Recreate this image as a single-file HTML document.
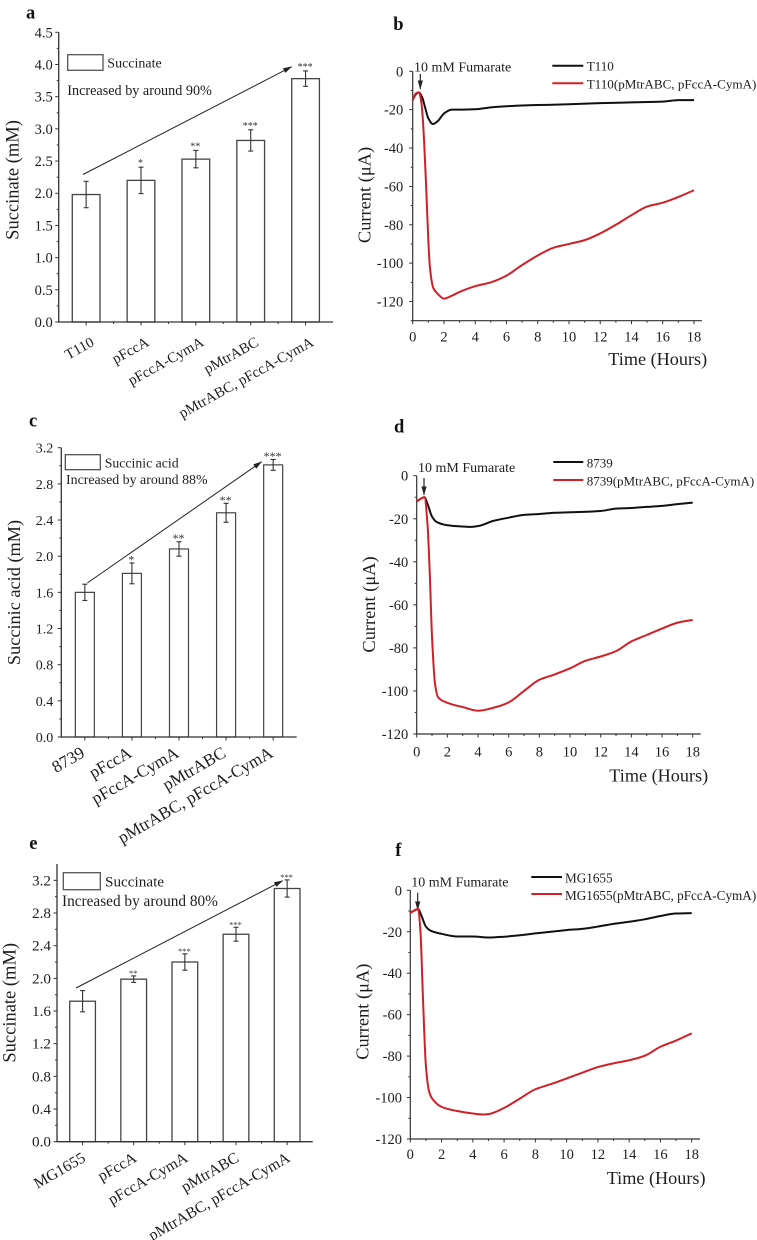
<!DOCTYPE html>
<html lang="en">
<head>
<meta charset="utf-8">
<title>Succinate production and current curves</title>
<style>
html,body{margin:0;padding:0;background:#fff;}
svg{display:block;}
text{font-family:"Liberation Serif",serif;fill:#1e1e1e;}
.panel-letter{font-weight:bold;font-size:18.5px;fill:#111;}
</style>
</head>
<body>
<svg id="figure" xmlns="http://www.w3.org/2000/svg" width="757" height="1240" viewBox="0 0 757 1240">
<defs>
<marker id="arrowhead" markerUnits="userSpaceOnUse" markerWidth="9" markerHeight="6" refX="8.5" refY="3" orient="auto"><path d="M0,0.4 L9,3 L0,5.6 Z" fill="#222"/></marker>
</defs>
<rect width="757" height="1240" fill="#fff"/>

<!-- Panel a -->
<g id="panel-a">
<text class="panel-letter" x="26" y="18.5">a</text>
<text transform="translate(18.3 180) rotate(-90)" text-anchor="middle" font-size="18.5">Succinate (mM)</text>
<rect x="67.7" y="54.7" width="35.3" height="15.6" fill="#fff" stroke="#555" stroke-width="1.3"/>
<text x="107.3" y="67.7" font-size="14">Succinate</text>
<text x="67.3" y="95" font-size="14.2">Increased by around 90%</text>
<line x1="83" y1="174.5" x2="291.7" y2="66.7" stroke="#222" stroke-width="1" marker-end="url(#arrowhead)"/>
</g>

<!-- Panel b -->
<g id="panel-b">
<text class="panel-letter" x="393.3" y="30">b</text>
<text transform="translate(370.7 195) rotate(-90)" text-anchor="middle" font-size="18.4">Current (μA)</text>
<text x="608.3" y="365" font-size="18.2">Time (Hours)</text>
<text x="414" y="71.7" font-size="14">10 mM Fumarate</text>
<line x1="420.3" y1="74" x2="420.3" y2="89" stroke="#111" stroke-width="1.1" marker-end="url(#arrowhead)"/>
<line x1="552.3" y1="65.7" x2="583.3" y2="65.7" stroke="#111" stroke-width="2"/>
<text x="586.7" y="70.7" font-size="13.1">T110</text>
<line x1="552.3" y1="83.3" x2="583.3" y2="83.3" stroke="#d11f27" stroke-width="2"/>
<text x="586.7" y="88.7" font-size="13.1">T110(pMtrABC, pFccA-CymA)</text>
</g>

<!-- Panel c -->
<g id="panel-c">
<text class="panel-letter" x="29" y="426.7">c</text>
<text transform="translate(20 592.5) rotate(-90)" text-anchor="middle" font-size="18.3">Succinic acid (mM)</text>
<rect x="65.3" y="454.7" width="35" height="15" fill="#fff" stroke="#444" stroke-width="1.2"/>
<text x="104.7" y="467.3" font-size="13.8">Succinic acid</text>
<text x="66" y="484" font-size="13.9">Increased by around 88%</text>
<line x1="87.3" y1="583" x2="261.7" y2="461.7" stroke="#222" stroke-width="1" marker-end="url(#arrowhead)"/>
</g>

<!-- Panel d -->
<g id="panel-d">
<text class="panel-letter" x="394" y="432.3">d</text>
<text transform="translate(375 604.5) rotate(-90)" text-anchor="middle" font-size="18.4">Current (μA)</text>
<text x="609.3" y="781.7" font-size="18.2">Time (Hours)</text>
<text x="418" y="472" font-size="14">10 mM Fumarate</text>
<line x1="424" y1="478" x2="424" y2="495" stroke="#111" stroke-width="1.1" marker-end="url(#arrowhead)"/>
<line x1="553.3" y1="462" x2="583.3" y2="462" stroke="#111" stroke-width="2"/>
<text x="586.7" y="467.3" font-size="13">8739</text>
<line x1="553.3" y1="480" x2="583.3" y2="480" stroke="#d11f27" stroke-width="2"/>
<text x="586.7" y="485.7" font-size="13">8739(pMtrABC, pFccA-CymA)</text>
</g>

<!-- Panel e -->
<g id="panel-e">
<text class="panel-letter" x="29.3" y="849">e</text>
<text transform="translate(15.7 1002.8) rotate(-90)" text-anchor="middle" font-size="18.5">Succinate (mM)</text>
<rect x="63.3" y="872.7" width="37" height="17" fill="#fff" stroke="#555" stroke-width="1.3"/>
<text x="105" y="886.7" font-size="15.2">Succinate</text>
<text x="62" y="906" font-size="15.3">Increased by around 80%</text>
<line x1="76" y1="988" x2="282.7" y2="880.7" stroke="#222" stroke-width="1" marker-end="url(#arrowhead)"/>
</g>

<!-- Panel f -->
<g id="panel-f">
<text class="panel-letter" x="395.3" y="856">f</text>
<text transform="translate(368.3 1011.7) rotate(-90)" text-anchor="middle" font-size="18.4">Current (μA)</text>
<text x="606.7" y="1184" font-size="18.2">Time (Hours)</text>
<text x="411.3" y="886.7" font-size="14">10 mM Fumarate</text>
<line x1="417.7" y1="892.7" x2="417.7" y2="910" stroke="#111" stroke-width="1.1" marker-end="url(#arrowhead)"/>
<line x1="531.3" y1="877" x2="562" y2="877" stroke="#111" stroke-width="2"/>
<text x="565" y="882.3" font-size="13.2">MG1655</text>
<line x1="531.3" y1="894" x2="562" y2="894" stroke="#d11f27" stroke-width="2"/>
<text x="565" y="900" font-size="13.2">MG1655(pMtrABC, pFccA-CymA)</text>
</g>
</svg>

<script>
/* ---- Bar chart data ---- */
var aCategories = ['T110', 'pFccA', 'pFccA-CymA', 'pMtrABC', 'pMtrABC, pFccA-CymA'];
var aValues = [1.98, 2.2, 2.53, 2.82, 3.78];
var aErrors = [0.205, 0.205, 0.135, 0.165, 0.12];
var aStars = ['', '*', '**', '***', '***'];
var aTicks = ['0.0', '0.5', '1.0', '1.5', '2.0', '2.5', '3.0', '3.5', '4.0', '4.5'];

var cCategories = ['8739', 'pFccA', 'pFccA-CymA', 'pMtrABC', 'pMtrABC, pFccA-CymA'];
var cValues = [1.6, 1.81, 2.08, 2.48, 3.01];
var cErrors = [0.09, 0.115, 0.08, 0.105, 0.06];
var cStars = ['', '*', '**', '**', '***'];
var cTicks = ['0.0', '0.4', '0.8', '1.2', '1.6', '2.0', '2.4', '2.8', '3.2'];

var eCategories = ['MG1655', 'pFccA', 'pFccA-CymA', 'pMtrABC', 'pMtrABC, pFccA-CymA'];
var eValues = [1.72, 1.99, 2.2, 2.54, 3.1];
var eErrors = [0.13, 0.04, 0.1, 0.085, 0.105];
var eStars = ['', '**', '***', '***', '***'];
var eTicks = ['0.0', '0.4', '0.8', '1.2', '1.6', '2.0', '2.4', '2.8', '3.2'];

/* ---- Line chart data ---- */
var timeTicks = ['0', '2', '4', '6', '8', '10', '12', '14', '16', '18'];
var bCurrentTicks = ['0', '-20', '-40', '-60', '-80', '-100', '-120'];
var dCurrentTicks = ['0', '-20', '-40', '-60', '-80', '-100', '-120'];
var fCurrentTicks = ['0', '-20', '-40', '-60', '-80', '-100', '-120'];

var bControlTime = [0, 0.2, 0.4, 0.6, 0.8, 1, 1.3, 1.6, 2, 2.5, 3, 4, 5, 6, 7, 8, 10, 12, 14, 16, 17, 18];
var bControlCurrent = [-15, -12, -11, -13.5, -19, -24.5, -27.5, -26, -22, -20, -20, -19.8, -18.8, -18.2, -17.8, -17.6, -17.2, -16.6, -16.2, -15.8, -15, -15];
var bEngineeredTime = [0, 0.2, 0.4, 0.55, 0.64, 0.85, 1, 1.1, 1.32, 1.6, 2, 2.5, 3, 4, 5, 6, 7, 8, 9, 10, 11, 12, 13, 14, 15, 16, 17, 18];
var bEngineeredCurrent = [-15, -11.5, -11, -16, -24, -58, -88, -102, -113, -116, -118.5, -117, -115, -112, -110, -106.5, -101, -96, -92, -90, -88, -84.5, -80, -75, -70.5, -68.5, -65.5, -62];

var dControlTime = [0, 0.2, 0.5, 0.7, 1, 1.3, 2, 3, 3.5, 4, 5, 6, 7, 8, 9, 10, 12, 13, 14, 15, 16, 17, 18];
var dControlCurrent = [-12, -11, -10, -13, -19, -21.5, -23, -23.6, -23.8, -23.4, -21, -19.5, -18.2, -17.8, -17.2, -17, -16.4, -15.3, -15, -14.5, -14, -13.2, -12.5];
var dEngineeredTime = [0, 0.2, 0.5, 0.7, 0.85, 1, 1.2, 1.4, 2, 3, 4, 5, 6, 7, 8, 9, 10, 11, 12, 13, 14, 15, 16, 17, 18];
var dEngineeredCurrent = [-12, -11, -10, -22, -45, -75, -97, -103, -105.5, -107.5, -109.2, -107.8, -105.3, -100, -94.8, -92.3, -89.5, -86, -84, -81.5, -77, -74, -71, -68.3, -67];

var fControlTime = [0, 0.2, 0.5, 0.7, 1, 1.3, 2, 3, 4, 5, 6, 7, 8, 9, 10, 11, 12, 13, 14, 15, 16, 17, 18];
var fControlCurrent = [-11, -10, -9, -12, -17.5, -19.5, -21, -22.3, -22.3, -22.8, -22.4, -21.7, -20.8, -20, -19.2, -18.6, -17.5, -16.2, -15.2, -14, -12.4, -11.2, -11];
var fEngineeredTime = [0, 0.2, 0.5, 0.65, 0.8, 1, 1.2, 1.4, 2, 3, 4, 4.7, 5, 6, 7, 8, 9, 10, 11, 12, 13, 14, 15, 16, 17, 18];
var fEngineeredCurrent = [-11, -10, -9, -20, -50, -85, -97, -100.5, -104.5, -106.5, -107.7, -108.2, -108, -105, -100.5, -96, -93.5, -90.8, -88, -85.3, -83.5, -82, -79.8, -75.5, -72.5, -69];

var SVGNS = 'http://www.w3.org/2000/svg';

function mk(parent, tag, name, attrs, content) {
  var el = document.createElementNS(SVGNS, tag);
  
  
  for (var k in attrs) { el.setAttribute(k, attrs[k]); }
  if (content !== undefined) { el.textContent = content; }
  parent.appendChild(el);
  return el;
}

function linear(d0, d1, r0, r1) {
  return function (v) { return r0 + (v - d0) * (r1 - r0) / (d1 - d0); };
}

/* Monotone cubic through the points so the curve never overshoots. */
function smoothPath(xs, ys) {
  var n = xs.length, i, dx = [], m = [], t = [];
  for (i = 0; i < n - 1; i++) { dx[i] = xs[i + 1] - xs[i]; m[i] = (ys[i + 1] - ys[i]) / dx[i]; }
  t[0] = m[0]; t[n - 1] = m[n - 2];
  for (i = 1; i < n - 1; i++) {
    if (m[i - 1] * m[i] <= 0) { t[i] = 0; }
    else { t[i] = 3 * (dx[i - 1] + dx[i]) / ((2 * dx[i] + dx[i - 1]) / m[i - 1] + (dx[i] + 2 * dx[i - 1]) / m[i]); }
  }
  var d = 'M' + xs[0].toFixed(2) + ',' + ys[0].toFixed(2);
  for (i = 0; i < n - 1; i++) {
    var h = dx[i] / 3;
    d += 'C' + (xs[i] + h).toFixed(2) + ',' + (ys[i] + t[i] * h).toFixed(2) + ' ' +
         (xs[i + 1] - h).toFixed(2) + ',' + (ys[i + 1] - t[i + 1] * h).toFixed(2) + ' ' +
         xs[i + 1].toFixed(2) + ',' + ys[i + 1].toFixed(2);
  }
  return d;
}

function barChart(id, o) {
  var g = document.getElementById(id);
  var y = linear(0, o.yMax, o.bottom, o.top);
  var step = (o.right - o.left) / o.categories.length;
  var x = function (i) { return o.left + (i + 0.5) * step; };
  var base = y(0);

  o.categories.forEach(function (name, i) {
    mk(g, 'rect', 'bar-' + (i + 1), { x: x(i) - o.barWidth / 2, y: y(o.values[i]), width: o.barWidth, height: base - y(o.values[i]), fill: '#fff', stroke: '#444', 'stroke-width': o.barStroke });
    var hi = y(o.values[i] + o.errors[i]), lo = y(o.values[i] - o.errors[i]);
    mk(g, 'line', 'error-bar-' + (i + 1), { x1: x(i), x2: x(i), y1: hi, y2: lo, stroke: '#333', 'stroke-width': 1.1 });
    mk(g, 'line', 'error-cap-top-' + (i + 1), { x1: x(i) - 2.5, x2: x(i) + 2.5, y1: hi, y2: hi, stroke: '#333', 'stroke-width': 1.1 });
    mk(g, 'line', 'error-cap-bottom-' + (i + 1), { x1: x(i) - 2.5, x2: x(i) + 2.5, y1: lo, y2: lo, stroke: '#333', 'stroke-width': 1.1 });
    if (o.stars[i]) {
      mk(g, 'text', 'significance-' + (i + 1), { x: x(i) - 0.5, y: hi + o.starDy, 'text-anchor': 'middle', 'font-size': o.starSize, style: 'fill:#333' }, o.stars[i]);
    }
    mk(g, 'line', 'x-tick-' + (i + 1), { x1: x(i), x2: x(i), y1: base, y2: base + 3.5, stroke: '#333', 'stroke-width': 1 });
    if (i < o.categories.length - 1) {
      mk(g, 'line', 'x-minor-tick-' + (i + 1), { x1: x(i) + step / 2, x2: x(i) + step / 2, y1: base, y2: base + 2, stroke: '#333', 'stroke-width': 1 });
    }
    var lx = x(i) + o.labelDx, ly = base + o.labelDy;
    mk(g, 'text', 'x-label-' + (i + 1), { x: lx, y: ly, 'text-anchor': 'end', 'font-size': o.labelSize, transform: 'rotate(' + (-o.labelAngle) + ' ' + lx + ' ' + ly + ')' }, name);
  });

  o.ticks.forEach(function (label, i) {
    var v = parseFloat(label), py = y(v);
    mk(g, 'line', 'y-tick-' + label, { x1: o.left - 3.5, x2: o.left, y1: py, y2: py, stroke: '#333', 'stroke-width': 1 });
    mk(g, 'text', 'y-tick-label-' + label, { x: o.tickRight, y: py + 5, 'text-anchor': 'end', 'font-size': o.tickSize }, label);
    var next = i + 1 < o.ticks.length ? parseFloat(o.ticks[i + 1]) : v + (v - parseFloat(o.ticks[i - 1]));
    var mid = (v + next) / 2;
    if (mid <= o.yMax) {
      mk(g, 'line', 'y-minor-tick-' + label, { x1: o.left - 2, x2: o.left, y1: y(mid), y2: y(mid), stroke: '#333', 'stroke-width': 1 });
    }
  });

  mk(g, 'line', 'y-axis', { x1: o.left, x2: o.left, y1: o.top, y2: base + 0.6, stroke: '#333', 'stroke-width': 1.3 });
  mk(g, 'line', 'x-axis', { x1: o.left, x2: o.right, y1: base, y2: base, stroke: '#333', 'stroke-width': 1.3 });
}

function lineChart(id, o) {
  var g = document.getElementById(id);
  var x = linear(0, 18, o.left, o.x18);
  var y = linear(0, o.yMin, o.top, o.bottom);
  var last = parseFloat(o.xTicks[o.xTicks.length - 1]);

  o.xTicks.forEach(function (label) {
    var t = parseFloat(label), px = x(t);
    mk(g, 'line', 'x-tick-' + label, { x1: px, x2: px, y1: o.bottom, y2: o.bottom + 3.5, stroke: '#333', 'stroke-width': 1 });
    mk(g, 'text', 'x-tick-label-' + label, { x: px, y: o.bottom + o.xLabelDy, 'text-anchor': 'middle', 'font-size': 14.5 }, label);
    if (t < last) {
      mk(g, 'line', 'x-minor-tick-' + label, { x1: x(t + 1), x2: x(t + 1), y1: o.bottom, y2: o.bottom + 2, stroke: '#333', 'stroke-width': 1 });
    }
  });

  o.yTicks.forEach(function (label) {
    var v = parseFloat(label), py = y(v);
    mk(g, 'line', 'y-tick-' + label, { x1: o.left - 3.5, x2: o.left, y1: py, y2: py, stroke: '#333', 'stroke-width': 1 });
    mk(g, 'text', 'y-tick-label-' + label, { x: o.tickRight, y: py + 5, 'text-anchor': 'end', 'font-size': 14.5 }, label);
    if (v - 10 >= o.yMin) {
      mk(g, 'line', 'y-minor-tick-' + label, { x1: o.left - 2, x2: o.left, y1: y(v - 10), y2: y(v - 10), stroke: '#333', 'stroke-width': 1 });
    }
  });

  mk(g, 'line', 'y-axis', { x1: o.left, x2: o.left, y1: o.top, y2: o.bottom + 0.6, stroke: '#333', 'stroke-width': 1.2 });
  mk(g, 'line', 'x-axis', { x1: o.left, x2: o.right, y1: o.bottom, y2: o.bottom, stroke: '#333', 'stroke-width': 1.2 });

  mk(g, 'path', 'control-curve', { d: smoothPath(o.controlTime.map(x), o.controlCurrent.map(y)), fill: 'none', stroke: '#111', 'stroke-width': 2, 'stroke-linejoin': 'round' });
  mk(g, 'path', 'engineered-curve', { d: smoothPath(o.engineeredTime.map(x), o.engineeredCurrent.map(y)), fill: 'none', stroke: '#d11f27', 'stroke-width': 2, 'stroke-linejoin': 'round' });
}

barChart('panel-a', { categories: aCategories, values: aValues, errors: aErrors, stars: aStars, ticks: aTicks, yMax: 4.5,
  left: 58.7, right: 333, top: 32.3, bottom: 322, barWidth: 27.7, barStroke: 1.3, tickRight: 52.7, tickSize: 14.5,
  starSize: 10, starDy: -1, labelSize: 14.8, labelAngle: 29, labelDx: 9, labelDy: 23 });
barChart('panel-c', { categories: cCategories, values: cValues, errors: cErrors, stars: cStars, ticks: cTicks, yMax: 3.2,
  left: 61.3, right: 296.7, top: 447.7, bottom: 737, barWidth: 19, barStroke: 1.2, tickRight: 53.3, tickSize: 14,
  starSize: 12, starDy: 0.5, labelSize: 17.2, labelAngle: 30, labelDx: 1, labelDy: 19 });
barChart('panel-e', { categories: eCategories, values: eValues, errors: eErrors, stars: eStars, ticks: eTicks, yMax: 3.4,
  left: 57, right: 312.7, top: 864, bottom: 1141.7, barWidth: 25.7, barStroke: 1.3, tickRight: 51, tickSize: 15.2,
  starSize: 8.5, starDy: 0, labelSize: 15.7, labelAngle: 30, labelDx: 4, labelDy: 19 });

lineChart('panel-b', { xTicks: timeTicks, yTicks: bCurrentTicks, controlTime: bControlTime, controlCurrent: bControlCurrent,
  engineeredTime: bEngineeredTime, engineeredCurrent: bEngineeredCurrent, yMin: -130,
  left: 412.7, x18: 694, right: 702, top: 71.3, bottom: 320.7, tickRight: 403.3, xLabelDy: 21 });
lineChart('panel-d', { xTicks: timeTicks, yTicks: dCurrentTicks, controlTime: dControlTime, controlCurrent: dControlCurrent,
  engineeredTime: dEngineeredTime, engineeredCurrent: dEngineeredCurrent, yMin: -120,
  left: 416.7, x18: 692.7, right: 700.7, top: 475.7, bottom: 734, tickRight: 408.3, xLabelDy: 22.7 });
lineChart('panel-f', { xTicks: timeTicks, yTicks: fCurrentTicks, controlTime: fControlTime, controlCurrent: fControlCurrent,
  engineeredTime: fEngineeredTime, engineeredCurrent: fEngineeredCurrent, yMin: -120,
  left: 410.3, x18: 691.7, right: 700, top: 890.3, bottom: 1139, tickRight: 402, xLabelDy: 20 });
</script>
</body>
</html>
